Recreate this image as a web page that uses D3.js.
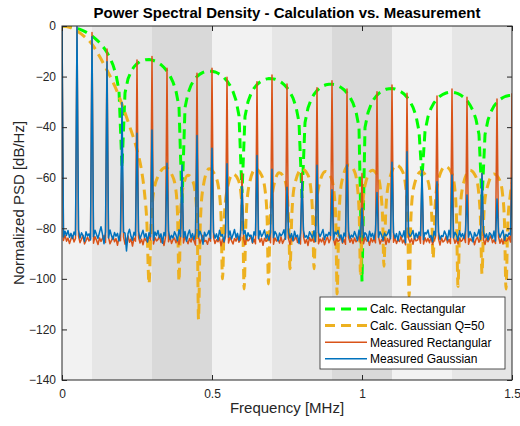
<!DOCTYPE html>
<html>
<head>
<meta charset="utf-8">
<script src="https://cdn.jsdelivr.net/npm/d3@7"></script>
<style>
body { margin: 0; background: #fff; }
svg { font-family: "Liberation Sans", Arial, sans-serif; }
</style>
</head>
<body>
<div id="chart"></div>
<script>
// ---- data ----
const xTicks = [0, 0.5, 1, 1.5];
const xTickLabels = ["0", "0.5", "1", "1.5"];
const yTicks = [0, -20, -40, -60, -80, -100, -120, -140];

// shaded frequency bands behind the plot
const bandEdges = [0, 0.1, 0.3, 0.5, 0.7, 0.9, 1.1, 1.3, 1.5];
const bandShades = ["#f2f2f2", "#e6e6e6", "#d9d9d9", "#f2f2f2", "#e6e6e6", "#d9d9d9", "#f2f2f2", "#e6e6e6"];

// Calc. Rectangular, one value every 10 kHz from 0 to 1.5 MHz
const calcRectStep = 0.01;
const calcRectDb = [
  0, -0.04, -0.14, -0.32, -0.58, -0.91, -1.33, -1.83, -2.42, -3.12, -3.92, -4.86, -5.94, -7.2, -8.69, -10.45, -12.62, -15.39, -19.23, -25.61, -56,
  -26.47, -20.97, -18.01, -16.14, -14.89, -14.06, -13.55, -13.3, -13.28, -13.46, -13.86, -14.46, -15.29, -16.39, -17.81, -19.67, -22.14, -25.72, -31.85, -70,
  -32.29, -26.58, -23.45, -21.41, -19.99, -19.02, -18.36, -17.98, -17.83, -17.9, -18.18, -18.68, -19.41, -20.41, -21.74, -23.5, -25.9, -29.39, -35.45, -66,
  -35.73, -29.97, -26.77, -24.66, -23.19, -22.16, -21.44, -21.01, -20.81, -20.82, -21.05, -21.5, -22.18, -23.14, -24.43, -26.15, -28.5, -31.96, -37.98, -68,
  -38.2, -32.4, -29.17, -27.02, -25.52, -24.45, -23.71, -23.25, -23.01, -23, -23.2, -23.63, -24.28, -25.2, -26.47, -28.16, -30.49, -33.92, -39.94, -101,
  -40.12, -34.29, -31.04, -28.88, -27.35, -26.27, -25.51, -25.03, -24.78, -24.75, -24.94, -25.34, -25.98, -26.89, -28.14, -29.83, -32.14, -35.56, -41.54, -60,
  -41.68, -35.84, -32.57, -30.4, -28.86, -27.76, -26.99, -26.5, -26.24, -26.2, -26.37, -26.77, -27.39, -28.3, -29.53, -31.21, -33.51, -36.92, -42.89, -69,
  -43.01, -37.16, -33.88, -31.7, -30.15, -29.04, -28.26, -27.76, -27.49, -27.44
];

// Calc. Gaussian Q=50, [MHz, dB]
const calcGauss = [
  [0, 0], [0.025, -0.5], [0.05, -2], [0.075, -4.2], [0.1, -7.2], [0.125, -12], [0.15, -17.5], [0.175, -23.5],
  [0.2, -31], [0.225, -39.5], [0.25, -49], [0.265, -57], [0.275, -66], [0.283, -78], [0.29, -102],
  [0.297, -78], [0.305, -66], [0.32, -59.5], [0.345, -56], [0.365, -58.5], [0.378, -63.5], [0.385, -74], [0.39, -101],
  [0.396, -72], [0.405, -63], [0.42, -59], [0.435, -61], [0.445, -67], [0.451, -80], [0.455, -116],
  [0.461, -78], [0.47, -64], [0.49, -56.5], [0.51, -59], [0.522, -64], [0.53, -75], [0.535, -100],
  [0.541, -76], [0.55, -65], [0.57, -58.5], [0.588, -61], [0.598, -68], [0.603, -80], [0.607, -104],
  [0.613, -78], [0.622, -64], [0.645, -56.5], [0.665, -59], [0.677, -65], [0.684, -77], [0.688, -102],
  [0.694, -76], [0.703, -65], [0.724, -58], [0.742, -60.5], [0.751, -67], [0.756, -79], [0.76, -96],
  [0.766, -75], [0.775, -63], [0.8, -56.5], [0.82, -59], [0.83, -65], [0.836, -77], [0.84, -96],
  [0.846, -75], [0.855, -64], [0.878, -57.5], [0.897, -60], [0.907, -66], [0.913, -78], [0.917, -106],
  [0.923, -76], [0.932, -62], [0.956, -55], [0.975, -57.5], [0.985, -64], [0.991, -76], [0.995, -98],
  [1.001, -75], [1.01, -63], [1.034, -57], [1.053, -59.5], [1.063, -66], [1.069, -77], [1.073, -95],
  [1.079, -74], [1.089, -62], [1.115, -55], [1.135, -57.5], [1.146, -64], [1.152, -76], [1.157, -107],
  [1.163, -76], [1.172, -64], [1.197, -57.5], [1.216, -60], [1.227, -66], [1.233, -77], [1.237, -92],
  [1.243, -73], [1.252, -62], [1.278, -55.5], [1.298, -58], [1.309, -64], [1.315, -76], [1.32, -103],
  [1.326, -76], [1.335, -64], [1.36, -57], [1.379, -59.5], [1.389, -66], [1.395, -77], [1.4, -98],
  [1.406, -75], [1.415, -65], [1.44, -58.5], [1.459, -61], [1.469, -67], [1.475, -78], [1.48, -104],
  [1.486, -78], [1.494, -67], [1.5, -62]
];

// measured spectral lines every 50 kHz
const spikeFreq = [0, 0.05, 0.1, 0.15, 0.2, 0.25, 0.3, 0.35, 0.4, 0.45, 0.5, 0.55, 0.6, 0.65, 0.7, 0.75,
  0.8, 0.85, 0.9, 0.95, 1, 1.05, 1.1, 1.15, 1.2, 1.25, 1.3, 1.35, 1.4, 1.45, 1.5];
const measRectPeak = [0, -0.5, -2.6, -9.1, -50, -13.4, -12.1, -16.7, -62, -18.7, -16.7, -20.3, -58.3, -22, -19.4, -22.9,
  -58, -24.4, -21.7, -24.9, -58.3, -26, -23.3, -26.6, -59, -27.7, -24.9, -28.2, -58.2, -28.9, -26.6];
const measGaussPeak = [0, -0.3, -4.3, -14.1, -30.3, -42.4, -41.1, -54.3, -55, -43.3, -48.3, -54.5, -63.5, -51.2, -56.7, -63.8,
  -61.6, -55.1, -64.8, -55, -72.1, -65.8, -53.9, -49.7, -56.9, -61.6, -58.9, -66.8, -58.3, -68.4, -60];

// measured noise floor, one value every 5 kHz
const measStep = 0.005;
const measRectFloor = [
  -83.2,-84.8,-82.6,-85.1,-83.9,-86.0,-84.2,-82.9,-85.4,-84.0,-84.6,-83.1,-85.7,-84.3,-82.8,-86.2,-84.9,-83.5,-85.0,-84.1,
  -84.4,-85.9,-83.3,-84.7,-86.4,-83.8,-85.2,-84.0,-82.9,-85.6,-84.5,-83.6,-86.1,-84.8,-83.2,-85.3,-84.1,-86.7,-83.7,-84.9,
  -85.0,-83.4,-86.3,-84.6,-83.0,-85.5,-84.2,-87.0,-83.9,-85.1,-84.7,-83.5,-85.8,-84.3,-86.5,-83.8,-84.9,-85.4,-83.1,-84.6,
  -84.8,-86.2,-83.7,-85.0,-84.4,-82.9,-85.6,-84.1,-86.8,-83.6,-84.9,-85.3,-83.4,-86.0,-84.5,-83.9,-85.7,-84.2,-86.4,-83.5,
  -84.3,-85.8,-83.2,-84.7,-86.1,-84.0,-85.4,-83.6,-85.0,-86.6,-84.6,-83.3,-85.9,-84.4,-82.8,-85.2,-84.8,-86.3,-83.9,-85.1,
  -84.9,-83.5,-86.0,-84.5,-85.3,-83.8,-86.9,-84.2,-85.6,-83.4,-84.7,-85.8,-83.6,-84.9,-86.2,-84.0,-85.1,-83.3,-85.5,-84.6,
  -85.2,-84.1,-86.5,-83.7,-85.0,-84.4,-82.9,-85.9,-84.3,-86.1,-84.8,-83.5,-85.4,-84.0,-86.7,-83.9,-85.2,-84.6,-83.1,-85.7,
  -84.5,-86.3,-83.8,-85.1,-84.2,-85.8,-83.4,-86.0,-84.7,-83.6,-85.3,-84.1,-86.4,-83.9,-85.0,-84.5,-82.9,-85.6,-84.3,-86.2,
  -84.7,-83.3,-85.9,-84.4,-86.8,-83.7,-85.1,-84.0,-85.5,-83.5,-84.9,-86.1,-84.2,-85.4,-83.8,-86.5,-84.6,-83.4,-85.7,-84.1,
  -85.0,-84.3,-86.6,-83.9,-85.2,-84.8,-83.2,-85.9,-84.5,-86.3,-84.4,-83.6,-85.5,-84.1,-86.0,-83.8,-85.3,-84.7,-83.0,-85.8,
  -84.6,-86.1,-83.5,-85.0,-84.3,-86.7,-83.9,-85.4,-84.2,-85.7,-84.9,-83.4,-86.2,-84.5,-85.1,-83.7,-86.4,-84.0,-85.6,-83.3,
  -84.8,-85.5,-83.8,-86.0,-84.4,-85.2,-83.1,-85.8,-84.6,-86.5,-84.3,-83.9,-85.6,-84.1,-86.3,-83.6,-85.0,-84.7,-82.9,-85.9,
  -84.5,-86.2,-83.7,-85.3,-84.0,-85.7,-83.4,-86.4,-84.8,-83.5,-85.1,-84.2,-86.6,-83.8,-85.4,-84.9,-83.3,-85.8,-84.4,-86.0,
  -84.7,-83.6,-85.9,-84.3,-86.1,-83.9,-85.2,-84.6,-83.2,-85.6,-84.9,-86.3,-84.1,-85.0,-83.7,-86.5,-84.4,-83.5,-85.5,-84.2,
  -85.0,-84.5,-86.4,-83.8,-85.3,-84.1,-82.9,-85.7,-84.6,-86.0,-84.8,-83.4,-85.9,-84.2,-86.2,-83.6,-85.1,-84.7,-83.3,-85.4,
  -84.9
];
const measGaussFloor = [
  -82.1,-83.4,-81.2,-82.8,-80.9,-83.6,-82.0,-84.1,-81.5,-82.7,-82.3,-80.6,-83.9,-81.8,-82.9,-85.2,-81.4,-83.0,-82.2,-84.6,
  -81.9,-83.3,-80.8,-82.5,-84.0,-81.6,-79.4,-82.4,-86.1,-81.3,-82.6,-83.8,-80.7,-82.9,-84.4,-81.7,-83.1,-82.0,-85.0,-81.2,
  -82.8,-81.5,-81.9,-89.0,-82.2,-80.4,-83.2,-84.7,-81.6,-82.9,-83.0,-81.1,-84.2,-82.5,-80.8,-83.6,-82.1,-85.4,-81.8,-83.3,
  -82.4,-84.8,-81.5,-82.9,-80.9,-83.7,-82.2,-85.9,-81.7,-83.0,-82.6,-81.0,-84.3,-82.8,-83.9,-81.4,-82.7,-84.9,-80.6,-83.2,
  -82.0,-83.6,-81.3,-85.1,-82.4,-80.7,-83.8,-82.1,-84.5,-81.9,-82.5,-83.4,-81.2,-82.8,-86.3,-81.6,-83.1,-82.3,-80.9,-84.0,
  -82.7,-81.5,-83.9,-82.2,-84.6,-80.8,-83.0,-82.5,-85.3,-81.7,-82.9,-83.5,-81.1,-84.2,-82.6,-80.5,-83.7,-82.0,-84.8,-81.9,
  -83.1,-82.3,-80.9,-84.4,-81.8,-83.2,-82.7,-85.6,-81.4,-82.8,-82.4,-84.1,-81.0,-83.3,-82.2,-80.7,-83.9,-82.5,-84.7,-81.6,
  -82.9,-83.7,-81.3,-82.4,-85.0,-81.9,-83.0,-82.2,-80.6,-84.3,-82.6,-81.5,-83.8,-82.1,-84.9,-81.2,-83.4,-82.7,-86.0,-81.8,
  -82.3,-80.8,-83.6,-82.9,-84.2,-81.4,-82.5,-83.9,-81.0,-85.2,-82.7,-81.7,-83.3,-82.0,-80.5,-84.5,-82.4,-83.1,-81.6,-82.8,
  -83.0,-84.6,-81.5,-82.3,-80.9,-83.8,-82.6,-85.5,-81.9,-83.2,-82.4,-81.1,-84.0,-82.7,-83.5,-81.3,-82.9,-84.8,-80.7,-83.4,
  -82.2,-83.7,-81.8,-82.5,-85.1,-81.2,-83.3,-82.0,-84.3,-80.8,-82.9,-83.6,-81.4,-82.6,-84.7,-81.9,-83.0,-82.3,-80.6,-84.1,
  -82.8,-81.6,-83.9,-82.1,-84.9,-81.3,-82.7,-83.4,-81.0,-85.7,-82.5,-81.8,-83.2,-82.4,-80.9,-84.2,-82.0,-83.7,-81.5,-82.9,
  -83.1,-84.5,-81.7,-82.2,-80.7,-83.6,-82.8,-85.3,-81.2,-83.0,-82.6,-81.4,-84.4,-82.9,-83.3,-81.1,-82.5,-84.6,-80.8,-83.5,
  -82.3,-83.8,-81.6,-82.7,-84.8,-81.0,-83.4,-82.1,-84.0,-80.9,-82.4,-83.5,-81.3,-82.8,-85.4,-81.7,-83.1,-82.6,-80.5,-84.3,
  -82.9,-81.4,-83.7,-82.2,-84.6,-81.8,-82.5,-83.9,-81.1,-85.0,-82.7,-81.5,-83.6,-82.0,-80.8,-84.7,-82.4,-83.2,-81.9,-82.6,
  -82.8
];

// ---- layout ----
const width = 520, height = 426;
const plot = { left: 62, right: 512, top: 26, bottom: 380 };
const axisColor = "#262626";

const colors = {
  calcRect: "#00ff00",
  calcGauss: "#edb120",
  measRect: "#d95319",
  measGauss: "#0072bd"
};

const svg = d3.select("#chart").append("svg")
  .attr("width", width)
  .attr("height", height);

const x = d3.scaleLinear().domain([0, 1.5]).range([plot.left, plot.right]);
const y = d3.scaleLinear().domain([-140, 0]).range([plot.bottom, plot.top]);

svg.append("defs").append("clipPath").attr("id", "plotClip")
  .append("rect")
  .attr("x", plot.left).attr("y", plot.top)
  .attr("width", plot.right - plot.left).attr("height", plot.bottom - plot.top);

// background bands
svg.append("g").selectAll("rect")
  .data(bandShades)
  .enter().append("rect")
  .attr("x", (d, i) => x(bandEdges[i]))
  .attr("y", plot.top)
  .attr("width", (d, i) => x(bandEdges[i + 1]) - x(bandEdges[i]))
  .attr("height", plot.bottom - plot.top)
  .attr("fill", d => d);

const area = svg.append("g").attr("clip-path", "url(#plotClip)");

// calculated curves
const rectPoints = calcRectDb.map((v, i) => [i * calcRectStep, v]);
area.append("path")
  .attr("d", d3.line().x(d => x(d[0])).y(d => y(d[1]))(rectPoints))
  .attr("fill", "none")
  .attr("stroke", colors.calcRect)
  .attr("stroke-width", 3)
  .attr("stroke-dasharray", "10,6");

area.append("path")
  .attr("d", d3.line().x(d => x(d[0])).y(d => y(d[1])).curve(d3.curveMonotoneX)(calcGauss))
  .attr("fill", "none")
  .attr("stroke", colors.calcGauss)
  .attr("stroke-width", 3)
  .attr("stroke-dasharray", "10,6");

// measured curves: noise floor with the spectral lines on top of it
const measPoints = (floor, peaks) => floor.map((v, i) =>
  [i * measStep, i % 10 === 0 ? peaks[i / 10] : v]);

const measLine = d3.line().x(d => x(d[0])).y(d => y(d[1]));

area.append("path")
  .attr("d", measLine(measPoints(measRectFloor, measRectPeak)))
  .attr("fill", "none")
  .attr("stroke", colors.measRect)
  .attr("stroke-width", 1.5)
  .attr("stroke-linejoin", "round");

area.append("path")
  .attr("d", measLine(measPoints(measGaussFloor, measGaussPeak)))
  .attr("fill", "none")
  .attr("stroke", colors.measGauss)
  .attr("stroke-width", 1.5)
  .attr("stroke-linejoin", "round");

// axes
const styleAxis = g => {
  g.select(".domain").remove();
  g.selectAll(".tick line").attr("stroke", axisColor);
  g.selectAll(".tick text").attr("fill", axisColor).style("font-size", "12px");
};

svg.append("g")
  .attr("transform", `translate(0,${plot.bottom})`)
  .call(d3.axisBottom(x).tickValues(xTicks).tickFormat((d, i) => xTickLabels[i]).tickSize(-5).tickPadding(9))
  .call(styleAxis);

svg.append("g")
  .attr("transform", `translate(0,${plot.top})`)
  .call(d3.axisTop(x).tickValues(xTicks).tickFormat("").tickSize(-5))
  .call(styleAxis);

svg.append("g")
  .attr("transform", `translate(${plot.left},0)`)
  .call(d3.axisLeft(y).tickValues(yTicks).tickSize(-5).tickPadding(6))
  .call(styleAxis);

svg.append("g")
  .attr("transform", `translate(${plot.right},0)`)
  .call(d3.axisRight(y).tickValues(yTicks).tickFormat("").tickSize(-5))
  .call(styleAxis);

svg.append("rect")
  .attr("x", plot.left).attr("y", plot.top)
  .attr("width", plot.right - plot.left).attr("height", plot.bottom - plot.top)
  .attr("fill", "none")
  .attr("stroke", axisColor)
  .attr("stroke-width", 1);

// titles
svg.append("text")
  .attr("x", (plot.left + plot.right) / 2)
  .attr("y", 18)
  .attr("text-anchor", "middle")
  .style("font-size", "15px")
  .style("font-weight", "bold")
  .attr("fill", "#000")
  .text("Power Spectral Density - Calculation vs. Measurement");

svg.append("text")
  .attr("x", (plot.left + plot.right) / 2)
  .attr("y", 413)
  .attr("text-anchor", "middle")
  .style("font-size", "15px")
  .attr("fill", axisColor)
  .text("Frequency [MHz]");

svg.append("text")
  .attr("transform", `translate(24,${(plot.top + plot.bottom) / 2}) rotate(-90)`)
  .attr("text-anchor", "middle")
  .style("font-size", "15px")
  .attr("fill", axisColor)
  .text("Normalized PSD [dB/Hz]");

// legend
const legendItems = [
  { label: "Calc. Rectangular", color: colors.calcRect, dash: "10,6", w: 3 },
  { label: "Calc. Gaussian Q=50", color: colors.calcGauss, dash: "10,6", w: 3 },
  { label: "Measured Rectangular", color: colors.measRect, dash: null, w: 1.5 },
  { label: "Measured Gaussian", color: colors.measGauss, dash: null, w: 1.5 }
];

const legend = svg.append("g").attr("transform", "translate(320,297)");
legend.append("rect")
  .attr("width", 185).attr("height", 72)
  .attr("fill", "#fff")
  .attr("stroke", axisColor)
  .attr("stroke-width", 0.8);

const rows = legend.selectAll("g.row")
  .data(legendItems)
  .enter().append("g")
  .attr("class", "row")
  .attr("transform", (d, i) => `translate(0,${12 + i * 16.6})`);

rows.append("line")
  .attr("x1", 5).attr("x2", 47)
  .attr("stroke", d => d.color)
  .attr("stroke-width", d => d.w)
  .attr("stroke-dasharray", d => d.dash);

rows.append("text")
  .attr("x", 50)
  .attr("y", 4.3)
  .style("font-size", "12px")
  .attr("fill", "#000")
  .text(d => d.label);
</script>
</body>
</html>
